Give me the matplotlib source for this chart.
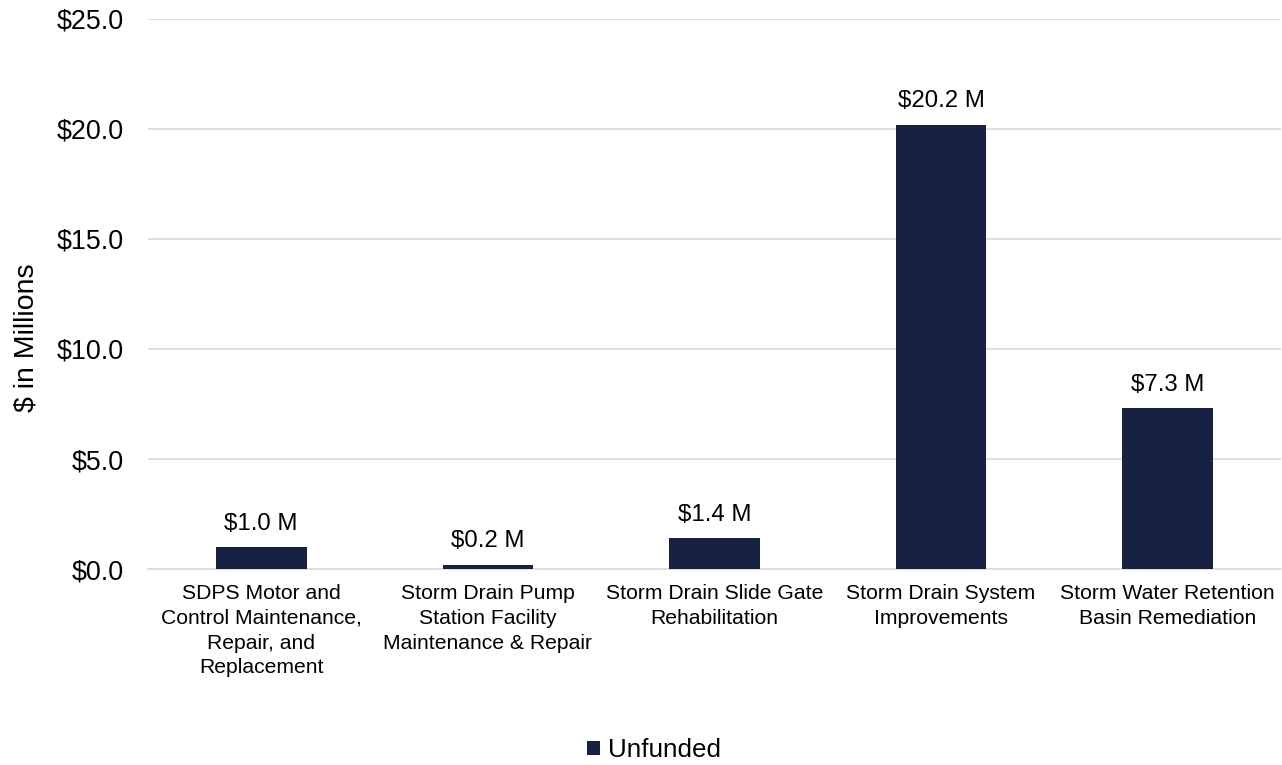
import numpy as np
import matplotlib.pyplot as plt

plt.rcParams['font.family'] = ['Liberation Sans', 'DejaVu Sans']

categories = ['SDPS Motor and\nControl Maintenance,\nRepair, and\nReplacement',
              'Storm Drain Pump\nStation Facility\nMaintenance & Repair',
              'Storm Drain Slide Gate\nRehabilitation',
              'Storm Drain System\nImprovements',
              'Storm Water Retention\nBasin Remediation']
unfunded = [1.0, 0.2, 1.4, 20.2, 7.3]
yticks = [0, 5, 10, 15, 20, 25]

color = '#172142'

fig = plt.figure(figsize=(12.82, 7.65), dpi=100)
ax = fig.add_axes([0.1154, 0.2562, 0.8838, 0.719])

x = np.arange(len(categories))
bars = ax.bar(x, unfunded, width=0.40, color=color, label='Unfunded', zorder=3)
ax.bar_label(bars, labels=['${:.1f} M'.format(v) for v in unfunded],
             padding=9, fontsize=17.3)

ax.set_xlim(-0.5, len(categories) - 0.5)
ax.set_ylim(0, 25)
ax.set_yticks(yticks)
ax.set_yticklabels(['${:.1f}'.format(v) for v in yticks], fontsize=19.4)
ax.set_xticks(x)
ax.set_xticklabels(categories, fontsize=15.2, linespacing=1.38)
ax.tick_params(axis='both', length=0)
ax.tick_params(axis='x', pad=11)
ax.tick_params(axis='y', pad=17)
ax.grid(axis='y', color='#d9d9d9', linewidth=1.2, zorder=0)
for s in ['top', 'right', 'left']:
    ax.spines[s].set_visible(False)
ax.spines['bottom'].set_color('#d9d9d9')
ax.spines['bottom'].set_linewidth(1.2)
ax.set_ylabel('$ in Millions', fontsize=20.5)
ax.yaxis.set_label_coords(-0.0955, 0.42)

fig.legend(loc='lower center', bbox_to_anchor=(0.51, -0.027), frameon=False,
           fontsize=18.7, handlelength=0.5, handleheight=0.5, handletextpad=0.3)

fig.savefig('out.png', dpi=100)
